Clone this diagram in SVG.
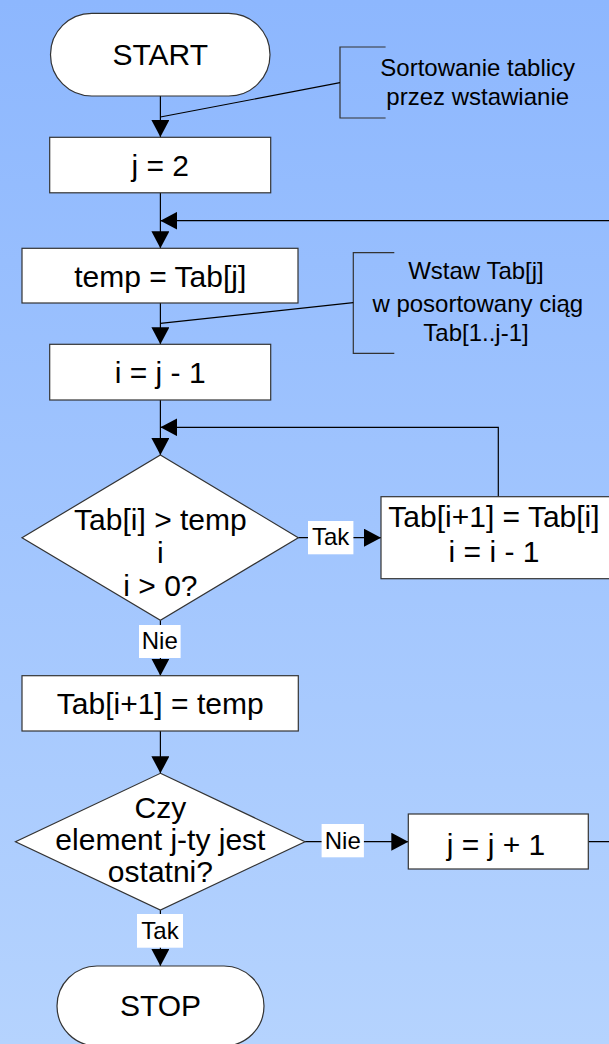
<svg xmlns="http://www.w3.org/2000/svg" width="609" height="1044" viewBox="0 0 609 1044">
<defs>
<linearGradient id="bg" x1="0" y1="0" x2="0" y2="1">
<stop offset="0" stop-color="#8db7fe"/>
<stop offset="1" stop-color="#b5d3fe"/>
</linearGradient>
<marker id="arr" markerUnits="userSpaceOnUse" markerWidth="18" markerHeight="18" refX="17" refY="9" orient="auto">
<path d="M0,0 L17,9 L0,18 z" fill="#000"/>
</marker>
<style>
.shape{fill:#fff;stroke:#333;stroke-width:1.2}
.t{font-family:"Liberation Sans",Arial,sans-serif;font-size:30px;fill:#000;text-anchor:middle}
.s{font-family:"Liberation Sans",Arial,sans-serif;font-size:24px;fill:#000;text-anchor:middle}
.c{fill:none;stroke:#000;stroke-width:1.2}
.n{fill:none;stroke:#333;stroke-width:1.2}
.lb{fill:#fff;stroke:none}
</style>
</defs>
<rect x="0" y="0" width="609" height="1044" fill="url(#bg)"/>

<g id="connectors">
<path class="c" d="M160.4,96 V137" marker-end="url(#arr)"/>
<path class="c" d="M160.4,193 V248.3" marker-end="url(#arr)"/>
<path class="c" d="M588.3,841.7 H625 V220.7 H160.4" marker-end="url(#arr)"/>
<path class="c" d="M160.4,303 V344.3" marker-end="url(#arr)"/>
<path class="c" d="M160.4,400 V455" marker-end="url(#arr)"/>
<path class="c" d="M298.3,537.7 H381" marker-end="url(#arr)"/>
<path class="c" d="M498.3,496.7 V427.3 H160.4" marker-end="url(#arr)"/>
<path class="c" d="M160.4,620.3 V675.7" marker-end="url(#arr)"/>
<path class="c" d="M160.4,731 V773.3" marker-end="url(#arr)"/>
<path class="c" d="M305,841.7 H408.3" marker-end="url(#arr)"/>
<path class="c" d="M160.4,910 V966" marker-end="url(#arr)"/>
<rect class="lb" x="308" y="521" width="45.4" height="33.3"/>
<text class="s" x="330.7" y="545">Tak</text>
<rect class="lb" x="139" y="625" width="41.6" height="33"/>
<text class="s" x="159.8" y="649">Nie</text>
<rect class="lb" x="321.6" y="824" width="42.3" height="33.3"/>
<text class="s" x="342.8" y="849">Nie</text>
<rect class="lb" x="137" y="914" width="46" height="33.7"/>
<text class="s" x="160" y="939">Tak</text>
</g>

<g id="note1">
<path class="n" d="M385.6,47 H340 V118 H385.6"/>
<path class="c" d="M340,82.7 L160.4,117"/>
<text class="s" x="477.7" y="76">Sortowanie tablicy</text>
<text class="s" x="477.7" y="105">przez wstawianie</text>
</g>

<g id="note2">
<path class="n" d="M394.3,252.7 H353.3 V353.3 H394.3"/>
<path class="c" d="M353.3,302.7 L160.4,323.3"/>
<text class="s" x="476" y="279">Wstaw Tab[j]</text>
<text class="s" x="477.8" y="311.5">w posortowany ciąg</text>
<text class="s" x="476" y="340.5">Tab[1..j-1]</text>
</g>

<g id="start">
<rect class="shape" x="50.5" y="13.3" width="219.5" height="82.7" rx="41.3" ry="41.3"/>
<text class="t" x="160.3" y="64.5">START</text>
</g>

<g id="j2">
<rect class="shape" x="49.7" y="137.3" width="221" height="55.5"/>
<text class="t" x="160.2" y="175.8">j = 2</text>
</g>

<g id="temp">
<rect class="shape" x="22" y="248.3" width="276" height="54.7"/>
<text class="t" x="160.2" y="286.5">temp = Tab[j]</text>
</g>

<g id="ij1">
<rect class="shape" x="49.7" y="344.3" width="221" height="55.7"/>
<text class="t" x="160.2" y="383">i = j - 1</text>
</g>

<g id="dec1">
<polygon class="shape" points="160.4,455 298.3,537.7 160.4,620.3 22,537.7"/>
<text class="t" x="160.4" y="530">Tab[i] &gt; temp</text>
<text class="t" x="160.4" y="563">i</text>
<text class="t" x="160.4" y="596">i &gt; 0?</text>
</g>

<g id="shift">
<rect class="shape" x="381" y="496.7" width="234" height="82"/>
<text class="t" x="494" y="527">Tab[i+1] = Tab[i]</text>
<text class="t" x="494" y="562">i = i - 1</text>
</g>

<g id="assign">
<rect class="shape" x="22" y="675.7" width="276.3" height="55.3"/>
<text class="t" x="160.2" y="714">Tab[i+1] = temp</text>
</g>

<g id="dec2">
<polygon class="shape" points="160.4,773.3 305,841.7 160.4,910 15.5,841.7"/>
<text class="t" x="160.4" y="818.3">Czy</text>
<text class="t" x="160.4" y="850">element j-ty jest</text>
<text class="t" x="160.4" y="881.7">ostatni?</text>
</g>

<g id="inc">
<rect class="shape" x="408.3" y="814" width="180" height="55"/>
<text class="t" x="496" y="855">j = j + 1</text>
</g>

<g id="stop">
<rect class="shape" x="57" y="966" width="207" height="80" rx="40" ry="40"/>
<text class="t" x="160.5" y="1016">STOP</text>
</g>
</svg>
